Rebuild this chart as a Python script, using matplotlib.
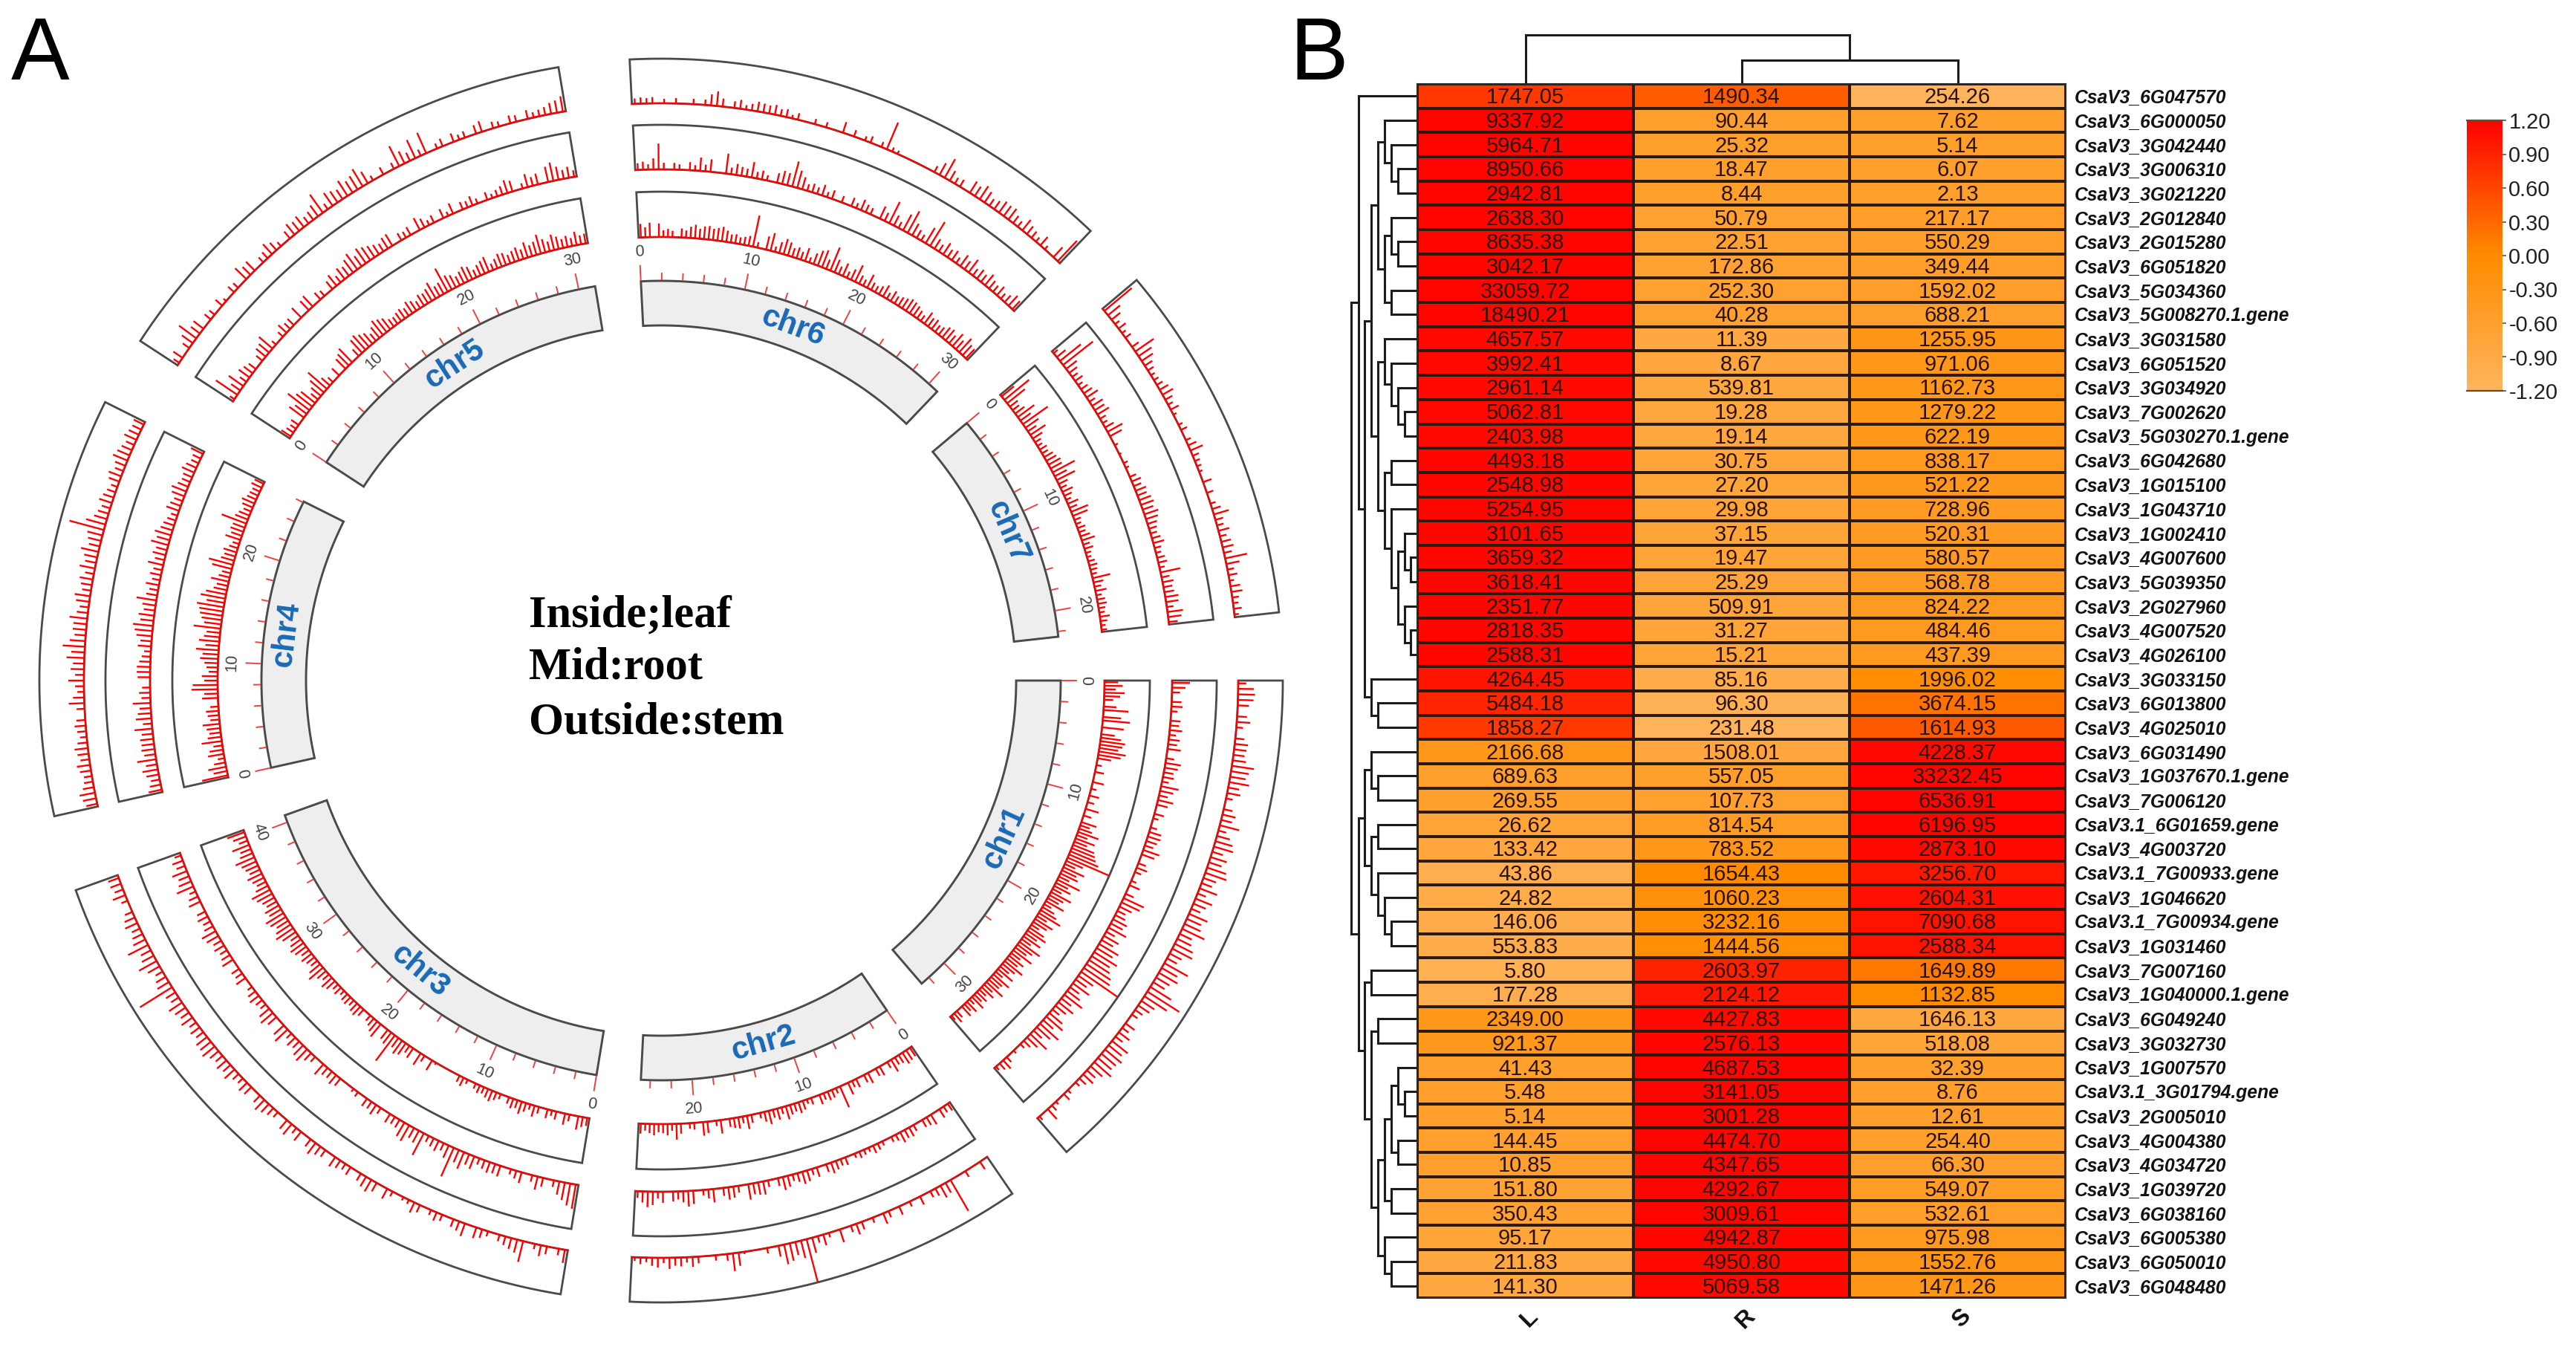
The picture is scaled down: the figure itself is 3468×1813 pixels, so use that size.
import numpy as np
import matplotlib
matplotlib.use("Agg")
import matplotlib.pyplot as plt
from matplotlib.colors import LinearSegmentedColormap
from matplotlib.collections import LineCollection

plt.rcParams['font.family'] = ['Liberation Sans', 'DejaVu Sans']

# ---------------- heatmap data ----------------
genes = ["CsaV3_6G047570","CsaV3_6G000050","CsaV3_3G042440","CsaV3_3G006310","CsaV3_3G021220","CsaV3_2G012840",
"CsaV3_2G015280","CsaV3_6G051820","CsaV3_5G034360","CsaV3_5G008270.1.gene","CsaV3_3G031580","CsaV3_6G051520",
"CsaV3_3G034920","CsaV3_7G002620","CsaV3_5G030270.1.gene","CsaV3_6G042680","CsaV3_1G015100","CsaV3_1G043710",
"CsaV3_1G002410","CsaV3_4G007600","CsaV3_5G039350","CsaV3_2G027960","CsaV3_4G007520","CsaV3_4G026100",
"CsaV3_3G033150","CsaV3_6G013800","CsaV3_4G025010","CsaV3_6G031490","CsaV3_1G037670.1.gene","CsaV3_7G006120",
"CsaV3.1_6G01659.gene","CsaV3_4G003720","CsaV3.1_7G00933.gene","CsaV3_1G046620","CsaV3.1_7G00934.gene","CsaV3_1G031460",
"CsaV3_7G007160","CsaV3_1G040000.1.gene","CsaV3_6G049240","CsaV3_3G032730","CsaV3_1G007570","CsaV3.1_3G01794.gene",
"CsaV3_2G005010","CsaV3_4G004380","CsaV3_4G034720","CsaV3_1G039720","CsaV3_6G038160","CsaV3_6G005380",
"CsaV3_6G050010","CsaV3_6G048480"]
val_L = ["1747.05","9337.92","5964.71","8950.66","2942.81","2638.30","8635.38","3042.17","33059.72","18490.21",
"4657.57","3992.41","2961.14","5062.81","2403.98","4493.18","2548.98","5254.95","3101.65","3659.32","3618.41",
"2351.77","2818.35","2588.31","4264.45","5484.18","1858.27","2166.68","689.63","269.55","26.62","133.42","43.86",
"24.82","146.06","553.83","5.80","177.28","2349.00","921.37","41.43","5.48","5.14","144.45","10.85","151.80",
"350.43","95.17","211.83","141.30"]
val_R = ["1490.34","90.44","25.32","18.47","8.44","50.79","22.51","172.86","252.30","40.28","11.39","8.67","539.81",
"19.28","19.14","30.75","27.20","29.98","37.15","19.47","25.29","509.91","31.27","15.21","85.16","96.30","231.48",
"1508.01","557.05","107.73","814.54","783.52","1654.43","1060.23","3232.16","1444.56","2603.97","2124.12","4427.83",
"2576.13","4687.53","3141.05","3001.28","4474.70","4347.65","4292.67","3009.61","4942.87","4950.80","5069.58"]
val_S = ["254.26","7.62","5.14","6.07","2.13","217.17","550.29","349.44","1592.02","688.21","1255.95","971.06","1162.73",
"1279.22","622.19","838.17","521.22","728.96","520.31","580.57","568.78","824.22","484.46","437.39","1996.02","3674.15",
"1614.93","4228.37","33232.45","6536.91","6196.95","2873.10","3256.70","2604.31","7090.68","2588.34","1649.89",
"1132.85","1646.13","518.08","32.39","8.76","12.61","254.40","66.30","549.07","532.61","975.98","1552.76","1471.26"]
columns = ["L", "R", "S"]
cbar_ticks = [-1.2, -0.9, -0.6, -0.3, 0.0, 0.3, 0.6, 0.9, 1.2]

# row dendrogram: (height, upper child, lower child); an int is a row number
row_tree = (89,
  (79, 1,
    (71,
      (62,
        (53,
          (44, 2, (35, 3, (26, 4, 5))),
          (44, (35, 6, (26, 7, 8)), (35, 9, 10))),
        (53,
          (44, 11, (35, 12, (26, 13, (17, 14, 15)))),
          (44, (35, 16, 17),
               (35, 18, (26, (17, 19, (9, 20, 21)), (17, 22, (9, 23, 24))))))),
      (62, 25, (53, 26, 27)))),
  (79,
    (71,
      (62, 28, (53, 29, 30)),
      (62, (53, 31, 32), (53, 33, (44, 34, (35, 35, 36))))),
    (71,
      (62, 37, 38),
      (62,
        (53, 39, 40),
        (53,
          (44,
            (35, (26, 41, (17, 42, 43)), (26, 44, 45)),
            (35, 46, 47)),
          (44, 48, (35, 49, 50)))))))
col_tree = (66, 0, (32, 1, 2))

# ---------------- circular plot data ----------------
chr_names = ["chr1", "chr2", "chr3", "chr4", "chr5", "chr6", "chr7"]
chr_start_deg = [0.0, 55.6, 99.3, 167.4, 213.1, 267.1, 319.9]
chr_end_deg = [49.3, 92.9, 160.3, 206.6, 260.5, 313.7, 353.7]
chr_length_mb = [32.9, 24.9, 40.7, 26.1, 31.6, 31.1, 22.5]

# bar heights in % of the track, read along each chromosome from 0 upward
leaf_chr1 = [30,40,25,45,35,20,0,28,55,0,40,60,0,48,0,30,45,55,50,42,60,50,30,0,12,0,20,0,0,25,0,12,0,22,0,15,0,30,0,18,
             0,35,22,30,48,25,45,30,50,55,60,70,100,40,25,50,35,42,25,55,30,40,22,50,35,28,45,18,30,40,55,25,45,35,20,38,48,30,45,25,
             55,40,30,50,25,40,30,50,35,25,42,20,45,32,30,48,25,35,20,30,22,35,15,30,20,28,0,18,25,12]
root_chr1 = [40,30,18,0,22,25,14,0,22,20,28,15,25,20,30,0,18,35,30,22,25,15,40,30,20,35,25,0,22,12,0,15,28,30,25,20,38,30,0,18,
             25,15,0,12,25,0,20,50,45,30,20,25,35,30,45,22,38,30,50,42,60,48,55,65,70,100,40,30,45,25,35,50,28,42,30,20,38,48,30,55,
             40,25,50,32,20,12,0,8,0,15,25,18,10]
stem_chr1 = [18,35,38,35,25,0,22,30,15,0,20,30,28,25,30,50,40,35,45,25,30,15,0,20,30,25,45,18,30,40,45,25,38,30,45,50,30,25,42,20,
             40,30,22,45,35,40,55,30,35,45,50,30,25,60,40,48,35,30,55,85,60,35,30,20,15,0,25,18,30,20,45,38,48,42,40,50,35,25,30,20,
             12,0,10,18,0,8,15,30,0,10]

leaf_chr2 = [22,25,28,20,18,30,15,0,22,18,0,25,18,0,20,15,28,0,50,12,18,20,15,22,0,15,10,20,25,18,22,30,15,25,18,30,22,12,0,18,
             30,15,25,22,18,0,30,12,0,25,30,0,15,12,0,22,35,15,25,20,18,25,20,15,22]
root_chr2 = [18,15,22,0,25,20,18,0,15,22,20,25,15,12,0,10,15,18,10,12,15,10,0,18,15,20,25,18,0,22,14,25,28,20,15,25,30,18,0,15,
             30,28,25,35,0,15,25,28,18,0,30,20,12,0,30,35,25,18,22,0,25,15,30,35,25,15]
stem_chr2 = [0,20,0,0,15,0,0,80,25,30,18,15,0,20,0,12,0,20,0,15,25,0,12,0,18,25,15,0,30,0,10,25,15,35,100,40,30,40,45,25,
             0,12,0,0,0,5,30,40,15,0,12,0,0,15,22,12,20,18,25,12,22,18,10,15,8]

leaf_chr3 = [18,22,30,0,15,25,0,18,12,20,0,15,25,12,20,28,18,22,15,0,12,18,25,20,15,18,12,0,10,20,15,0,0,0,0,0,5,25,0,15,
             30,0,25,18,30,35,25,70,30,25,0,35,28,20,15,0,18,25,22,15,20,18,12,20,15,25,30,18,25,40,30,18,22,28,20,30,35,28,20,35,
             45,38,30,40,45,30,35,25,30,38,45,30,22,28,35,25,30,35,45,30,25,40,20,30,40]
root_chr3 = [55,50,40,30,15,0,20,30,15,0,25,18,12,0,25,22,25,20,15,30,25,40,30,70,30,18,25,20,15,55,30,25,40,35,20,18,22,0,15,25,
             18,20,0,12,8,0,0,20,25,18,20,30,0,15,22,35,30,20,25,15,38,30,0,25,35,28,15,18,25,20,12,0,25,18,20,0,28,22,18,25,
             20,30,35,22,18,25,20,0,28,22,15,40,30,25,35,20,25,15]
stem_chr3 = [30,15,0,18,25,12,0,48,30,25,20,15,0,12,20,25,0,30,22,18,0,15,20,12,0,18,25,10,8,0,12,25,0,22,30,25,18,0,20,15,
             20,25,0,18,22,30,20,0,25,15,30,25,0,15,20,25,30,20,0,22,25,15,18,30,22,28,20,25,35,30,30,20,25,18,30,22,28,35,20,25,
             85,30,25,18,30,45,30,25,50,30,25,20,30,25,18,0,15,30,20,25,25]

leaf_chr4 = [58,30,40,25,15,35,30,20,45,30,25,30,38,20,25,28,18,0,35,30,58,55,30,35,20,25,30,40,35,50,30,45,35,30,60,38,45,50,53,60,
             40,55,45,30,25,40,25,20,45,55,30,25,30,20,15,35,25,30,28,58,30,25,18,25,30,22,20,18,25,22]
root_chr4 = [30,25,20,28,35,25,43,25,30,28,30,25,40,20,35,30,25,40,20,25,18,0,28,30,30,25,20,15,30,25,35,40,45,30,35,25,30,45,25,20,
             30,18,25,20,35,22,30,25,40,30,38,28,25,20,15,30,25,20,30,35,25,20,22,30,25,18,20,30]
stem_chr4 = [25,30,35,25,20,18,25,30,20,25,30,22,15,20,25,20,0,18,35,25,15,20,35,20,30,25,40,30,50,35,25,30,30,40,25,20,30,35,20,25,
             30,20,35,25,30,40,25,30,35,80,45,30,25,20,30,25,20,15,25,30,20,25,35,30,25,20,30,25,22,25]

leaf_chr5 = [25,18,15,20,0,40,32,60,45,40,20,28,40,55,25,15,0,22,0,30,35,42,0,20,38,42,35,30,20,30,40,35,30,20,18,22,25,20,30,25,
             18,28,25,30,40,25,28,58,35,30,22,28,35,30,18,25,30,35,15,22,30,28,20,25,30,22,35,25,30,43,30,22,35,28,20,25,18,30,20,22]
root_chr5 = [12,58,25,40,18,30,25,20,0,18,28,30,40,12,0,15,25,18,20,0,30,0,28,32,0,20,15,0,22,30,18,30,25,35,43,28,40,35,30,25,
             20,28,30,0,18,15,20,0,30,22,12,18,0,22,10,25,0,18,15,22,12,0,18,10,15,20,30,25,0,12,30,20,25,0,35,42,30,20,25,15]
stem_chr5 = [15,25,0,18,30,48,25,28,0,18,15,0,20,8,0,18,15,0,35,25,28,0,15,18,30,22,12,0,20,30,25,30,18,22,30,50,15,35,30,25,
             40,30,35,45,30,12,0,18,0,15,50,30,20,45,15,50,0,12,18,0,20,12,15,0,20,25,0,15,12,0,18,15,0,20,12,15,18,25,28,35]

leaf_chr6 = [30,22,32,0,30,15,18,14,0,20,16,25,30,22,28,30,25,28,32,25,18,20,15,18,22,70,12,0,30,40,12,25,35,30,20,25,18,30,12,25,
             35,40,22,55,30,18,30,15,25,40,20,15,32,18,15,20,28,15,25,18,22,25,30,28,25,20,15,30,22,25,18,20,28,30,22,35,25,40,30,28]
root_chr6 = [15,18,12,25,58,15,0,15,12,0,18,12,30,15,28,0,0,45,15,25,20,18,35,15,20,12,0,22,30,28,58,40,28,15,20,15,25,12,20,0,
             15,0,20,12,25,18,15,0,30,20,53,25,15,40,55,30,20,15,40,63,25,18,30,20,25,15,30,22,35,18,25,20,30,22,18,25,15,20,30,25]
stem_chr6 = [12,14,12,14,0,10,0,12,0,0,12,0,12,25,33,18,0,15,20,10,15,22,20,18,22,15,18,8,15,0,0,12,0,12,0,0,25,0,15,0,
             10,15,0,12,65,10,8,0,0,0,0,0,0,15,30,48,25,15,18,0,30,25,35,28,18,22,30,28,30,20,15,30,22,18,12,25,10,0,30,63]

leaf_chr7 = [35,70,50,22,18,25,45,28,67,35,22,40,25,15,12,18,15,22,25,30,28,55,30,45,22,15,25,18,12,25,18,40,35,15,12,18,15,22,30,15,
             20,12,10,15,18,15,12,40,22,15,25,12,18,20,15,12,22,15,10,12]
root_chr7 = [12,25,60,85,30,22,15,20,12,18,22,30,15,28,25,30,15,12,22,38,30,0,8,0,5,0,10,8,0,15,22,18,25,22,28,30,25,33,28,22,
             18,15,20,25,15,12,18,20,12,45,18,25,20,22,30,28,15,35,30,20]
stem_chr7 = [80,35,25,12,20,10,15,0,18,50,35,30,20,15,10,12,15,22,27,18,12,20,8,0,10,15,0,12,20,30,15,12,10,8,0,20,0,15,0,12,
             20,35,18,15,25,15,22,25,18,50,30,15,20,10,22,25,15,12,18,10]

chr_tracks = [[leaf_chr1, root_chr1, stem_chr1], [leaf_chr2, root_chr2, stem_chr2], [leaf_chr3, root_chr3, stem_chr3],
              [leaf_chr4, root_chr4, stem_chr4], [leaf_chr5, root_chr5, stem_chr5], [leaf_chr6, root_chr6, stem_chr6],
              [leaf_chr7, root_chr7, stem_chr7]]

# ---------------- figure ----------------
W, H = 3468, 1813
fig = plt.figure(figsize=(W / 100, H / 100), dpi=100, facecolor="white")
ax = fig.add_axes([0, 0, 1, 1])
ax.set_xlim(0, W)
ax.set_ylim(H, 0)
ax.axis("off")

CX, CY = 890, 916
IDEO = (478, 538)
RINGS = [(597, 658), (688, 748), (777, 837)]
EDGE = "#4a4a4a"
RED = "#ff0000"


def pol(t_deg, r):
    t = np.radians(t_deg)
    return CX + r * np.cos(t), CY + r * np.sin(t)


def sector(t0, t1, r0, r1, **kw):
    t = np.linspace(t0, t1, 160)
    x0, y0 = pol(t, r0)
    x1, y1 = pol(t[::-1], r1)
    ax.fill(np.r_[x0, x1, x0[0]], np.r_[y0, y1, y0[0]], **kw)


def upright(t):
    t = t % 360
    return 90 - t if t < 180 else 270 - t


for name, t0, t1, L, tracks in zip(chr_names, chr_start_deg, chr_end_deg, chr_length_mb, chr_tracks):
    sector(t0, t1, IDEO[0], IDEO[1], facecolor="#eeeeee", edgecolor=EDGE, linewidth=2.1, zorder=2)
    tm = (t0 + t1) / 2
    xm, ym = pol(tm, 508)
    ax.text(xm, ym, name, color="#1a69b4", fontsize=30, fontweight="bold", ha="center", va="center",
            rotation=upright(tm), rotation_mode="anchor", zorder=5)
    segs = []
    for mb in np.arange(0, L + 0.01, 2):
        t = t0 + mb * (t1 - t0) / L
        major = int(mb) % 10 == 0
        segs.append([pol(t, IDEO[1] + 1), pol(t, IDEO[1] + (22 if major else 11))])
        if major:
            xl, yl = pol(t, IDEO[1] + 40)
            ax.text(xl, yl, str(int(mb)), color="#444444", fontsize=15.5, ha="center", va="center",
                    rotation=upright(t), rotation_mode="anchor", zorder=5)
    ax.add_collection(LineCollection(segs, colors="#f04040", linewidths=1.4, zorder=3))
    for (r0, r1), vals in zip(RINGS, tracks):
        sector(t0, t1, r0, r1, facecolor="white", edgecolor=EDGE, linewidth=2.0, zorder=2)
        vals = np.asarray(vals, float)
        tt = t0 + (np.arange(len(vals)) + 0.5) / len(vals) * (t1 - t0)
        bars = [[pol(a, r0), pol(a, r0 + v / 100 * (r1 - r0))] for a, v in zip(tt, vals) if v > 0]
        ax.add_collection(LineCollection(bars, colors=RED, linewidths=1.7, zorder=4))
        bx, by = pol(np.linspace(t0, t1, 120), r0)
        ax.plot(bx, by, color=RED, linewidth=1.5, zorder=4)

for label, ypos in zip(["Inside;leaf", "Mid:root", "Outside:stem"], [828, 899, 972]):
    ax.text(712, ypos, label, family="Liberation Serif", fontweight="bold", fontsize=43.6, ha="left",
            va="center", color="black")
ax.text(15, 107, "A", fontsize=85, ha="left", va="baseline", color="black")
ax.text(1736, 107, "B", fontsize=85, ha="left", va="baseline", color="black")

# ---------------- heatmap ----------------
HX0, HX1, HY0, HY1 = 1908, 2781, 113, 1747
hax = fig.add_axes([HX0 / W, 1 - HY1 / H, (HX1 - HX0) / W, (HY1 - HY0) / H])
nums = np.array([[float(a), float(b), float(c)] for a, b, c in zip(val_L, val_R, val_S)])
z = (nums - nums.mean(axis=1, keepdims=True)) / nums.std(axis=1, ddof=1, keepdims=True)
cmap = LinearSegmentedColormap.from_list("heat", [(0, "#ffb55e"), (0.5, "#ff8c00"), (1, "#ff0000")])
hax.pcolormesh(np.arange(4), np.arange(len(genes) + 1), z, cmap=cmap, vmin=-1.2, vmax=1.2,
               edgecolors="#2a1a10", linewidth=1.5)
hax.set_xlim(0, 3)
hax.set_ylim(len(genes), 0)
hax.set_xticks([])
hax.set_yticks([])
for s in hax.spines.values():
    s.set_linewidth(1.5)
    s.set_color("#2a2a2a")
for i, row in enumerate(zip(val_L, val_R, val_S)):
    for j, v in enumerate(row):
        hax.text(j + 0.5, i + 0.56, v, ha="center", va="center", fontsize=21, color="#2a1205")
    hax.text(3.04, i + 0.56, genes[i], ha="left", va="center", fontsize=17.7, fontweight="bold",
             fontstyle="italic", color="#111111", clip_on=False)
for j, c in enumerate(columns):
    hax.text(j + 0.52, 50.85, c, ha="center", va="center", fontsize=23, fontweight="bold", rotation=45,
             color="#111111", clip_on=False)

# ---------------- dendrograms ----------------
row_h = (HY1 - HY0) / len(genes)
cell_w = (HX1 - HX0) / 3
den = []


def draw(node):
    if not isinstance(node, tuple):
        return 0.0, HY0 + (node - 0.5) * row_h
    h, a, b = node
    ha_, ya = draw(a)
    hb_, yb = draw(b)
    x = HX0 - h
    den.extend([[(HX0 - ha_, ya), (x, ya)], [(HX0 - hb_, yb), (x, yb)], [(x, ya), (x, yb)]])
    return h, (ya + yb) / 2


def draw_col(node):
    if not isinstance(node, tuple):
        return 0.0, HX0 + (node + 0.5) * cell_w
    h, a, b = node
    ha_, xa = draw_col(a)
    hb_, xb = draw_col(b)
    y = HY0 - h
    den.extend([[(xa, HY0 - ha_), (xa, y)], [(xb, HY0 - hb_), (xb, y)], [(xa, y), (xb, y)]])
    return h, (xa + xb) / 2


draw(row_tree)
draw_col(col_tree)
ax.add_collection(LineCollection(den, colors="#1c1c1c", linewidths=2.2, capstyle="projecting", zorder=6))

# ---------------- colour bar ----------------
cax = fig.add_axes([3321 / W, 1 - 526 / H, 48 / W, 364 / H])
grad = np.linspace(1.2, -1.2, 256).reshape(-1, 1)
cax.imshow(grad, cmap=cmap, vmin=-1.2, vmax=1.2, aspect="auto", extent=[0, 1, -1.2, 1.2])
cax.set_xticks([])
cax.yaxis.tick_right()
cax.set_yticks(cbar_ticks)
cax.set_yticklabels([f"{v:.2f}" for v in cbar_ticks], fontsize=21, color="#222222")
cax.tick_params(axis="y", length=3.5, width=1.1, color="#444444", pad=2.5)
for k, s in cax.spines.items():
    s.set_visible(k in ("top", "bottom"))
    s.set_linewidth(1.6)
    s.set_color("#6b4a2a")

fig.savefig("out.png", dpi=100, facecolor="white")
